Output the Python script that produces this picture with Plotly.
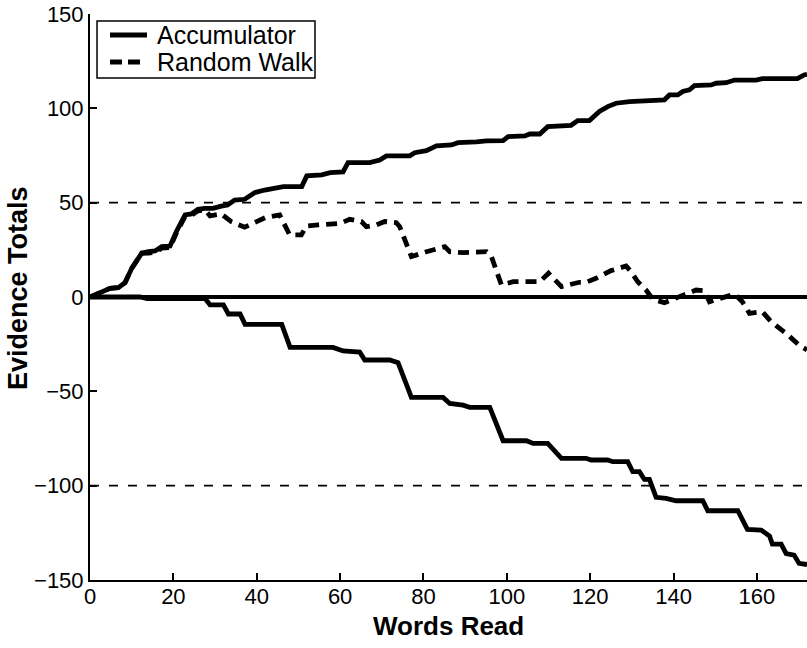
import plotly.graph_objects as go

# Accumulator: positive evidence total (words read, total)
acc_pos_x = [0, 2.8, 4.8, 6.8, 8.4, 10, 12.4, 14, 15.6, 17.2, 19.2, 20.7, 22.8, 24.3, 25.9,
             27.5, 29.5, 31.5, 33, 34.7, 37.1, 39.5, 41.9, 46.4, 50.8, 52, 55.6, 57.6, 60.7,
             61.9, 67.1, 69.5, 71.1, 76.7, 77.9, 80.7, 83.1, 86.7, 88.3, 92.7, 95.1, 99.1,
             100.3, 104.3, 105.5, 107.9, 109.8, 115.4, 117, 119.8, 122.2, 124.2, 126.2, 129.4,
             133.4, 137.8, 139, 141, 142.2, 143.8, 145, 149, 150.2, 152.6, 154.6, 159.8, 161.3,
             169.7, 171.3, 172]
acc_pos_y = [0, 2.5, 4.6, 5, 7.6, 15.2, 23.2, 24, 24.4, 26.7, 27, 34.6, 43.5, 44, 46.5,
             47, 47, 48.2, 48.8, 51.4, 51.8, 55.3, 56.7, 58.5, 58.5, 64.2, 64.7, 65.9, 66.3,
             71.2, 71.2, 72.6, 74.8, 74.8, 76.5, 77.6, 80.1, 80.6, 81.8, 82.2, 82.7, 82.9,
             85, 85.4, 86.4, 86.4, 90.3, 91, 93.5, 93.5, 98.3, 100.9, 102.7, 103.6,
             104.1, 104.5, 107.1, 107.1, 108.9, 109.8, 112, 112.4, 113.3, 113.6, 115, 115, 115.7,
             115.7, 117.7, 118]

# Accumulator: negative evidence total
acc_neg_x = [0, 12, 13.7, 27.6, 28.8, 32, 33.2, 36, 37.2, 46, 48, 58.3, 60.7, 64.7, 65.9,
             71.9, 73.9, 77.1, 84.7, 86.3, 89.5, 91.1, 95.9, 99.1, 104.7, 106.3, 109.8, 111,
             113.1, 119, 120.2, 124.2, 125.4, 129, 130.2, 131.8, 133, 134.2, 135.8, 138.2,
             140.6, 147, 148.2, 155.4, 157.7, 161, 163, 163.7, 165.8, 167, 168.9, 170.1, 172]
acc_neg_y = [0, 0, -0.8, -0.8, -4.2, -4.2, -9, -9, -14.5, -14.5, -26.7, -26.7, -28.6, -29.2, -33.4,
             -33.4, -34.8, -53.2, -53.2, -56.4, -57.3, -58.5, -58.5, -76.2, -76.2, -77.6, -77.6, -80.2,
             -85.5, -85.5, -86.4, -86.4, -87.3, -87.3, -92.6, -92.6, -96.7, -96.7, -106.2, -106.7,
             -108, -108, -113.3, -113.3, -123.2, -123.5, -126.7, -131, -131, -136, -136.8, -141.2, -141.8]

# Random walk: single running total
walk_x = [0, 2.8, 4.8, 6.8, 8.4, 10, 12.4, 14, 15.6, 17.2, 19.2, 20.7, 22.8, 24.3, 25.9,
          27.6, 28.8, 31.5, 33.9, 37.1, 40.3, 42, 45.5, 47.9, 50.7, 51.9, 54.7, 58.3, 60,
          62.3, 65.1, 66.3, 68.7, 70.7, 73.5, 74.3, 76.3, 77.1, 80.7, 82.7, 85.1, 86.3, 89.5,
          95.1, 96.3, 98.7, 101.5, 107.9, 110, 113.1, 117.4, 119, 121.4, 125, 128.6, 129.8,
          131.4, 133.4, 135, 137.8, 140.6, 142.6, 145.4, 147.4, 148.6, 152.6, 154.6, 156.5,
          158.2, 161.3, 163.4, 167, 170.1, 172]
walk_y = [0, 2.5, 4.6, 5, 7.6, 15.2, 23.2, 23.3, 23.6, 25.9, 26.2, 33.8, 42.7, 43.2, 45.7,
          46.2, 43, 44, 39.9, 37, 40, 42, 43.5, 32.9, 32.9, 37.6, 38.2, 38.5, 39,
          41.2, 40, 37.3, 38.2, 40, 39.4, 37.3, 25.8, 21.4, 24, 25.3, 26.7, 24, 23.5,
          24, 21.4, 6.4, 8.1, 8.1, 12.6, 5.5, 7.8, 7.8, 9.9, 14, 16.4, 13.4,
          8.1, 3.7, -1.2, -3, -0.7, 1, 3.7, 3.3, -2.5, 0.2, 1.6, -2.5,
          -8.7, -7.8, -13.1, -19.3, -25.5, -28]

# Decision thresholds and axis ticks
thresholds = [50, -100]
x_ticks = [0, 20, 40, 60, 80, 100, 120, 140, 160]
y_ticks = [-150, -100, -50, 0, 50, 100, 150]
x_range = [0, 172]
y_range = [-150, 150]

FONT = "Liberation Sans, Arial, Helvetica, sans-serif"
LINE_W = 4.8
WALK_DASH = "11px,7px"

fig = go.Figure()

fig.add_trace(go.Scatter(
    x=acc_pos_x, y=acc_pos_y, mode="lines", name="Accumulator",
    legendgroup="acc", showlegend=False, line=dict(color="black", width=LINE_W),
))
fig.add_trace(go.Scatter(
    x=acc_neg_x, y=acc_neg_y, mode="lines", name="Accumulator",
    legendgroup="acc", showlegend=False, line=dict(color="black", width=LINE_W),
))
fig.add_trace(go.Scatter(
    x=walk_x, y=walk_y, mode="lines", name="Random Walk", showlegend=False,
    line=dict(color="black", width=LINE_W, dash=WALK_DASH),
))

# baseline at zero
fig.add_shape(type="line", xref="paper", x0=0, x1=1, yref="y", y0=0, y1=0,
              line=dict(color="black", width=4), layer="below")
# thresholds
for t in thresholds:
    fig.add_shape(type="line", xref="paper", x0=0, x1=1, yref="y", y0=t, y1=t,
                  line=dict(color="black", width=1.8, dash="9px,10px"), layer="below")

# compact boxed key in the upper-left corner
fig.add_shape(type="rect", xref="paper", yref="paper", x0=0.0098, x1=0.3138, y0=0.8869, y1=0.9876,
              line=dict(color="black", width=1.5), fillcolor="white", layer="above")
key_rows = [("Accumulator", "solid", 0.0279, 0.0795, 0.9629),
            ("Random Walk", "12px,6px", 0.0279, 0.0700, 0.9152)]
for label, dash, kx0, kx1, ky in key_rows:
    fig.add_shape(type="line", xref="paper", yref="paper", x0=kx0, x1=kx1, y0=ky, y1=ky,
                  line=dict(color="black", width=LINE_W, dash=dash), layer="above")
    fig.add_annotation(text=label, xref="paper", yref="paper", x=0.0907, y=ky,
                       xanchor="left", yanchor="middle", showarrow=False,
                       font=dict(family=FONT, size=25, color="black"))

axis_common = dict(
    showline=True, linecolor="black", linewidth=2,
    ticks="inside", ticklen=7, tickwidth=1.8, tickcolor="black",
    showgrid=False, zeroline=False,
    tickfont=dict(family=FONT, size=22, color="black"),
)

fig.update_xaxes(range=x_range, tickvals=x_ticks, ticklabelstandoff=-4, **axis_common)
fig.update_yaxes(range=y_range, tickvals=y_ticks, **axis_common)

fig.add_annotation(text="<b>Words Read</b>", xref="paper", yref="paper",
                   x=0.5, y=-0.081, xanchor="center", yanchor="middle", showarrow=False,
                   font=dict(family=FONT, size=26, color="black"))
fig.add_annotation(text="<b>Evidence Totals</b>", xref="paper", yref="paper",
                   x=-0.1004, y=0.516, xanchor="center", yanchor="middle", showarrow=False,
                   textangle=-90, font=dict(family=FONT, size=27, color="black"))

fig.update_layout(
    width=807, height=648,
    margin=dict(l=90, r=0, t=14, b=68),
    paper_bgcolor="white", plot_bgcolor="white",
    showlegend=False,
)

fig.write_html("out.html")
